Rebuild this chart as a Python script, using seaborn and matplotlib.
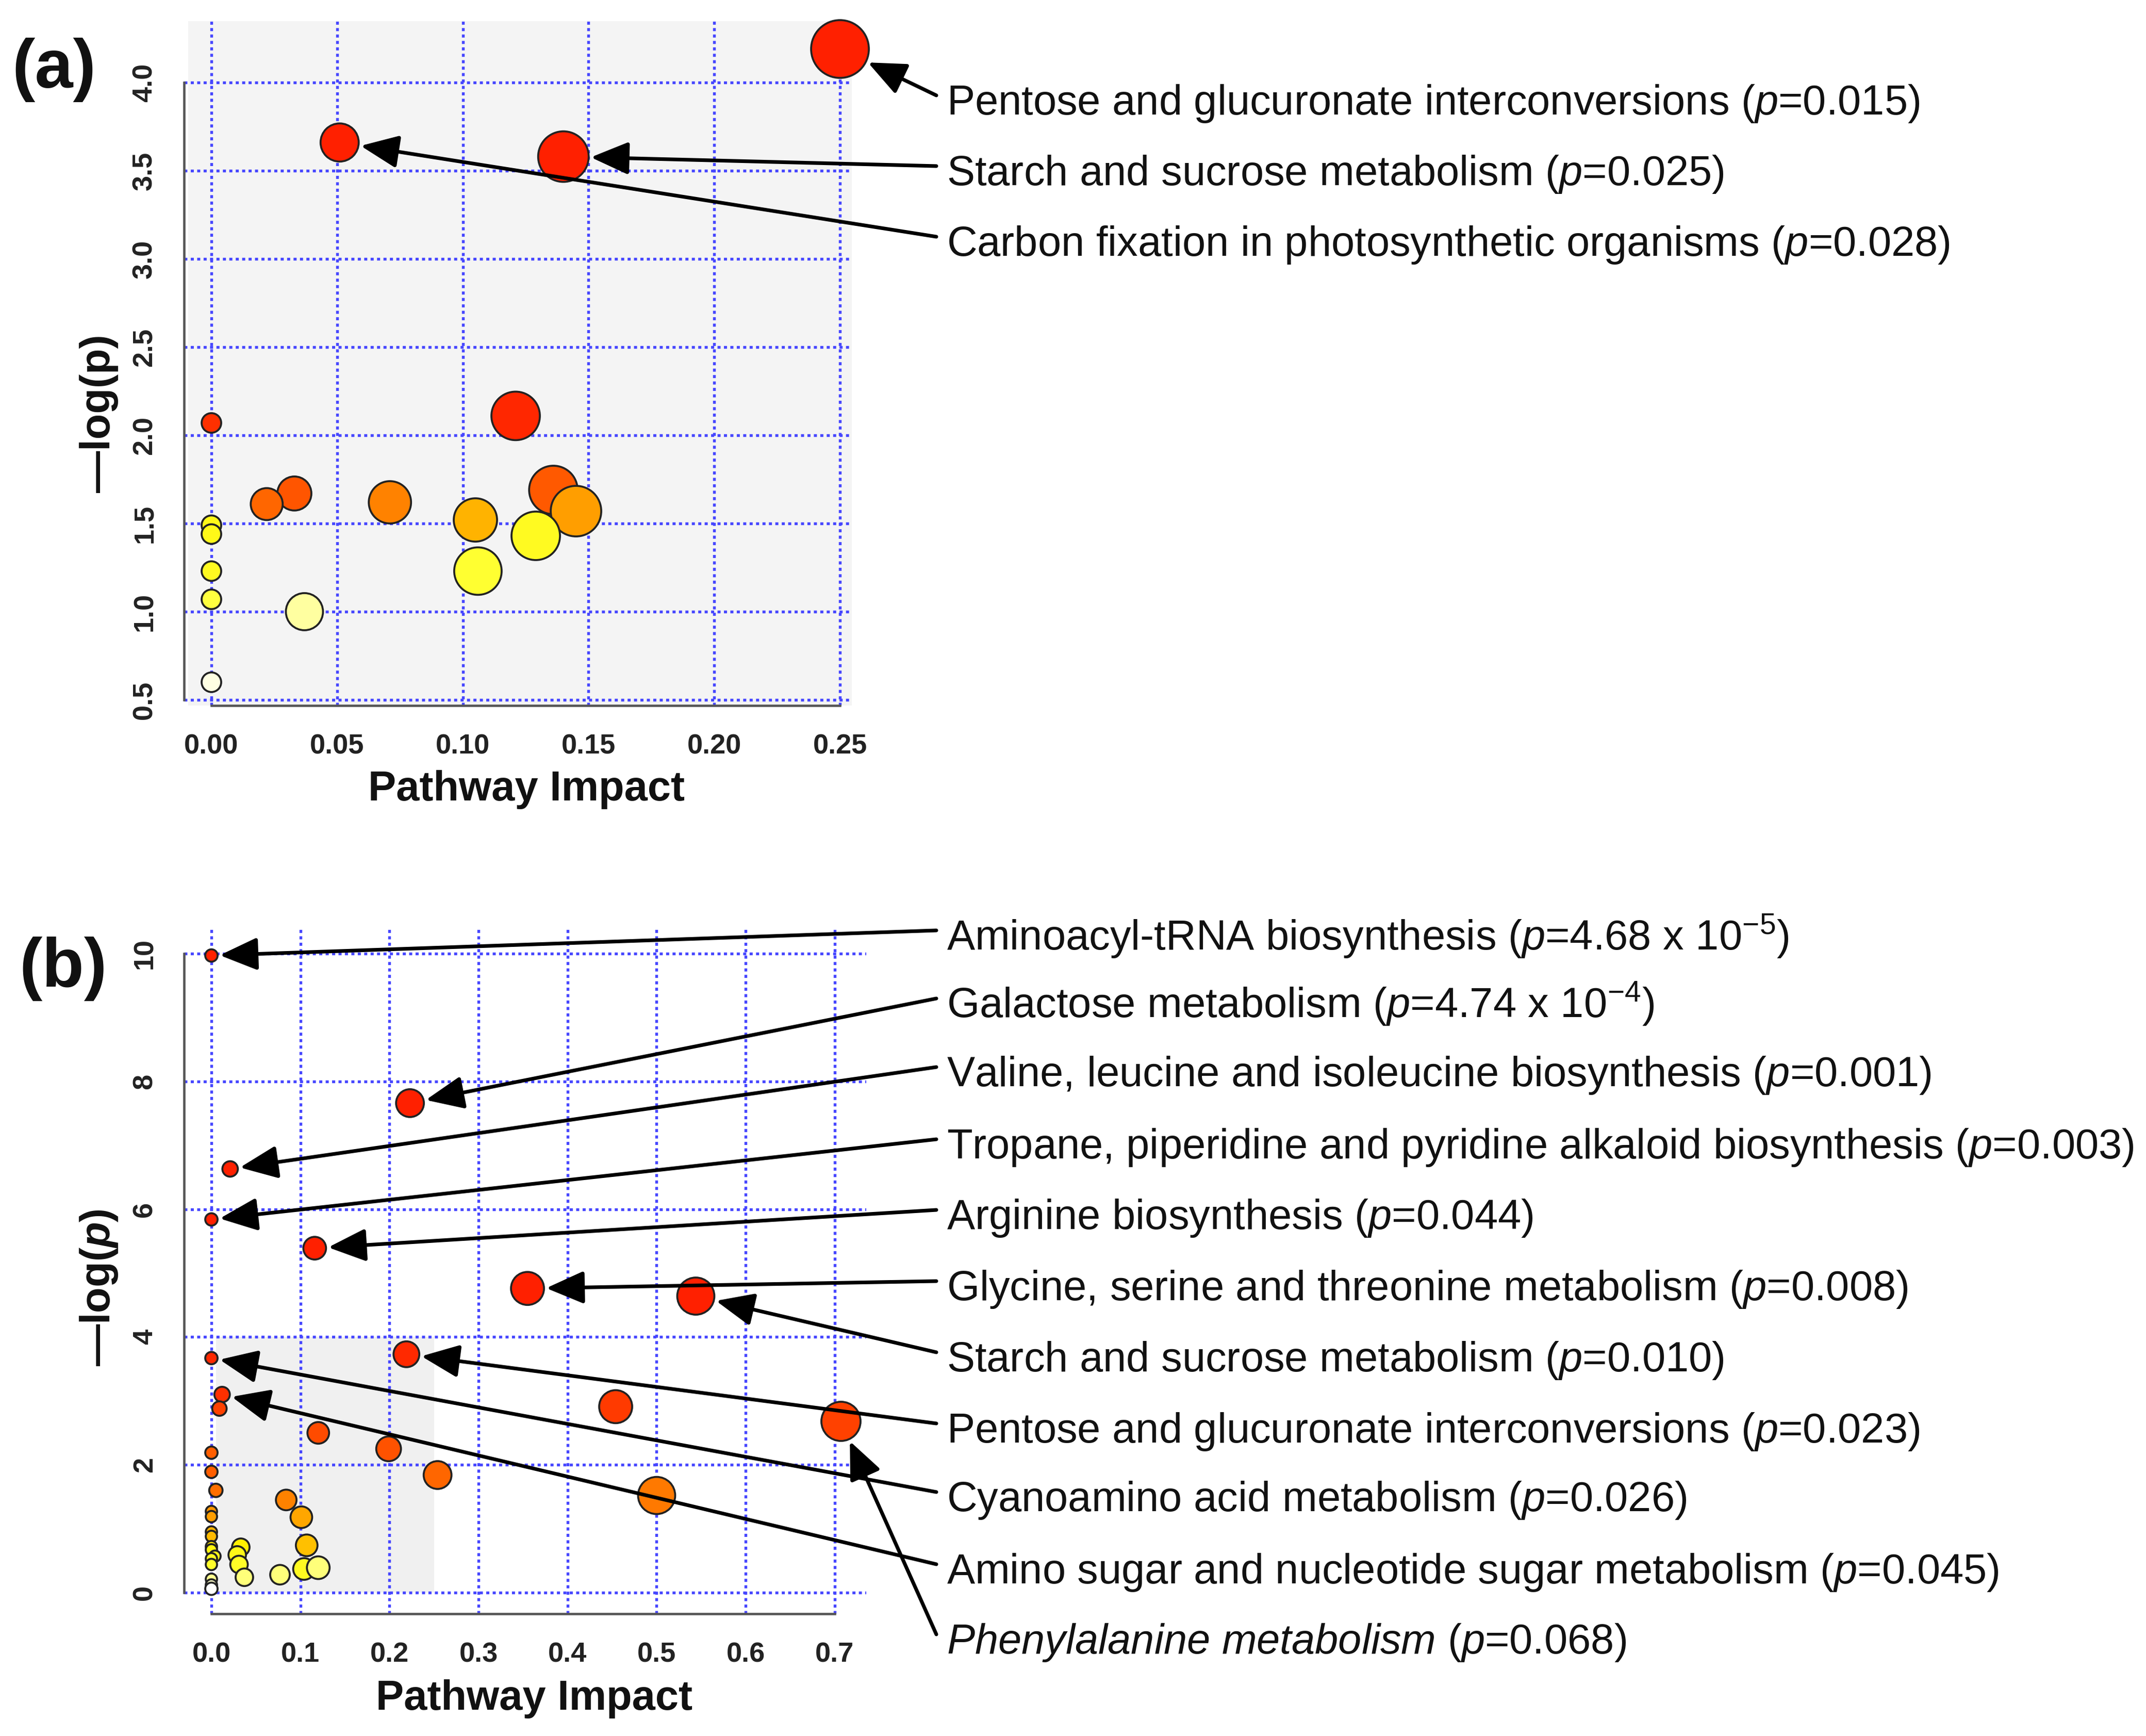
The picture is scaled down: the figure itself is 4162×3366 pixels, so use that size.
import numpy as np
import pandas as pd
import matplotlib
matplotlib.use("Agg")
import matplotlib.pyplot as plt
import seaborn as sns
from matplotlib.colors import LinearSegmentedColormap
from matplotlib.patches import Rectangle

# ---- panel (a): pathway impact vs -log(p) ----
a_impact = [0.250, 0.051, 0.140, 0.121, 0.000, 0.136, 0.145, 0.033, 0.022, 0.071,
            0.105, 0.129, 0.106, 0.037, 0.000, 0.000, 0.000, 0.000, 0.000]
a_logp = [4.19, 3.66, 3.58, 2.11, 2.07, 1.69, 1.57, 1.67, 1.61, 1.62,
          1.52, 1.43, 1.23, 1.00, 1.49, 1.44, 1.23, 1.07, 0.60]
# bubble radius (px)
a_radius = [56, 37, 49, 47, 19, 47, 49, 33, 31, 41, 42, 47, 46, 36, 19, 19, 19, 19, 19]
# colour level, 0 = white ... 1 = red
a_heat = [1.0, 1.0, 1.0, 0.98, 0.95, 0.83, 0.66, 0.84, 0.80, 0.73,
          0.60, 0.38, 0.35, 0.20, 0.40, 0.40, 0.38, 0.33, 0.06]
a_xticks = [0.0, 0.05, 0.10, 0.15, 0.20, 0.25]
a_xticklabels = ["0.00", "0.05", "0.10", "0.15", "0.20", "0.25"]
a_yticks = [0.5, 1.0, 1.5, 2.0, 2.5, 3.0, 3.5, 4.0]
a_yticklabels = ["0.5", "1.0", "1.5", "2.0", "2.5", "3.0", "3.5", "4.0"]
a_labels = [
    r"Pentose and glucuronate interconversions ($p$=0.015)",
    r"Starch and sucrose metabolism ($p$=0.025)",
    r"Carbon fixation in photosynthetic organisms ($p$=0.028)",
]
a_targets = [0, 2, 1]

# ---- panel (b) ----
b_impact = [0.000, 0.223, 0.021, 0.000, 0.116, 0.355, 0.544, 0.219, 0.000, 0.454,
            0.707, 0.012, 0.009, 0.120, 0.199, 0.254, 0.500, 0.000, 0.000, 0.005,
            0.084, 0.101, 0.107, 0.104, 0.120, 0.077, 0.033, 0.029, 0.031, 0.037,
            0.000, 0.000, 0.000, 0.000, 0.000, 0.000, 0.004, 0.000, 0.000, 0.000,
            0.000, 0.000]
b_logp = [9.97, 7.66, 6.63, 5.84, 5.39, 4.76, 4.64, 3.73, 3.67, 2.91,
          2.68, 3.10, 2.88, 2.50, 2.25, 1.84, 1.52, 2.19, 1.89, 1.60,
          1.45, 1.18, 0.74, 0.37, 0.39, 0.28, 0.71, 0.59, 0.44, 0.24,
          1.27, 1.19, 0.95, 0.88, 0.72, 0.67, 0.57, 0.53, 0.44, 0.21,
          0.12, 0.06]
b_radius = [12, 27, 15, 12, 22, 32, 36, 25, 12, 32,
            38, 15, 14, 21, 24, 27, 36, 12, 12, 13,
            20, 21, 21, 21, 22, 19, 17, 17, 17, 17,
            11, 11, 11, 11, 11, 11, 11, 11, 11, 11,
            11, 12]
b_heat = [1.0, 1.0, 1.0, 1.0, 1.0, 1.0, 1.0, 0.97, 0.97, 0.92,
          0.90, 0.95, 0.90, 0.87, 0.85, 0.80, 0.75, 0.82, 0.82, 0.78,
          0.73, 0.64, 0.56, 0.38, 0.25, 0.25, 0.45, 0.40, 0.37, 0.25,
          0.68, 0.66, 0.60, 0.58, 0.48, 0.42, 0.40, 0.38, 0.36, 0.22,
          0.12, 0.0]
b_xticks = [0.0, 0.1, 0.2, 0.3, 0.4, 0.5, 0.6, 0.7]
b_xticklabels = ["0.0", "0.1", "0.2", "0.3", "0.4", "0.5", "0.6", "0.7"]
b_yticks = [0, 2, 4, 6, 8, 10]
b_yticklabels = ["0", "2", "4", "6", "8", "10"]
b_labels = [
    r"Aminoacyl-tRNA biosynthesis ($p$=4.68 x 10$^{-5}$)",
    r"Galactose metabolism ($p$=4.74 x 10$^{-4}$)",
    r"Valine, leucine and isoleucine biosynthesis ($p$=0.001)",
    r"Tropane, piperidine and pyridine alkaloid biosynthesis ($p$=0.003)",
    r"Arginine biosynthesis ($p$=0.044)",
    r"Glycine, serine and threonine metabolism ($p$=0.008)",
    r"Starch and sucrose metabolism ($p$=0.010)",
    r"Pentose and glucuronate interconversions ($p$=0.023)",
    r"Cyanoamino acid metabolism ($p$=0.026)",
    r"Amino sugar and nucleotide sugar metabolism ($p$=0.045)",
    r"$\mathit{Phenylalanine\ metabolism}$ ($p$=0.068)",
]
b_targets = [0, 1, 2, 3, 4, 5, 6, 7, 8, 11, 10]

# ---- style ----
W, H, DPI = 4162, 3366, 300
sns.set_style("white")
plt.rcParams["font.family"] = ["Liberation Sans", "DejaVu Sans"]
plt.rcParams["mathtext.fontset"] = "custom"
plt.rcParams["mathtext.rm"] = "Liberation Sans"
plt.rcParams["mathtext.it"] = "Liberation Sans:italic"
plt.rcParams["mathtext.bf"] = "Liberation Sans:bold"
plt.rcParams["mathtext.bfit"] = "Liberation Sans:italic:bold"

heat = LinearSegmentedColormap.from_list("heat", [
    (0.0, "#ffffff"), (0.2, "#ffffa0"), (0.35, "#ffff30"), (0.45, "#fff000"),
    (0.55, "#ffc400"), (0.65, "#ffa200"), (0.75, "#ff7a00"), (0.85, "#ff5200"),
    (1.0, "#ff2000")])

GRID = "#4646ff"
AXC = "#555555"
fig = plt.figure(figsize=(W / DPI, H / DPI), dpi=DPI)


def fpos(x, y):
    # reference pixel -> figure fraction
    return x / W, 1 - y / H


def to_pt(r):
    return r * 72 / DPI


def panel(rect, xlab_y, impact, logp, radius, lvl, xlim, ylim, shade, xticks, xtl,
          yticks, ytl, ylabel, ylab_xy, labels, targets, label_y, tag, tag_xy):
    df = pd.DataFrame({"impact": impact, "logp": logp, "heat": lvl,
                       "area": (2 * to_pt(np.array(radius, float))) ** 2})
    ax = fig.add_axes(rect)
    ax.set_facecolor("white")
    ax.add_patch(Rectangle((shade[0], shade[2]), shade[1] - shade[0],
                           shade[3] - shade[2], facecolor=shade[4],
                           edgecolor="none", zorder=0.2))
    ax.set_axisbelow(True)
    ax.grid(True, color=GRID, lw=1.3, ls=(0, (1.1, 1.2)))
    smin, smax = df["area"].min(), df["area"].max()
    sns.scatterplot(data=df, x="impact", y="logp", hue="heat", palette=heat,
                    hue_norm=(0, 1), size="area", sizes=(smin, smax),
                    size_norm=(smin, smax), edgecolor="#222222", linewidth=0.9,
                    alpha=1, legend=False, ax=ax, zorder=3, clip_on=False)
    ax.set_xlim(*xlim)
    ax.set_ylim(*ylim)
    for s in ["top", "right"]:
        ax.spines[s].set_visible(False)
    for s in ["left", "bottom"]:
        ax.spines[s].set_color(AXC)
        ax.spines[s].set_linewidth(1.1)
    ax.spines["left"].set_bounds(yticks[0], yticks[-1])
    ax.spines["bottom"].set_bounds(xticks[0], xticks[-1])
    ax.set_xticks(xticks)
    ax.set_xticklabels(xtl, fontweight="bold", va="center")
    ax.set_yticks(yticks)
    ax.set_yticklabels(ytl, fontweight="bold", rotation=90, va="center", ha="center")
    ax.tick_params(axis="both", direction="out", length=6, width=1.0, color=AXC,
                   labelsize=13, labelcolor="#222222")
    ax.tick_params(axis="x", pad=13)
    ax.tick_params(axis="y", pad=12.3)
    ax.set_xlabel("Pathway Impact", fontsize=19.5, fontweight="bold", color="#111111")
    ax.set_ylabel(ylabel, fontsize=19.5, fontweight="bold", color="#111111")
    ax.xaxis.set_label_coords(0.513, xlab_y)
    ax.xaxis.label.set_va("center")
    ax.yaxis.set_label_coords(*ylab_xy)
    ax.yaxis.label.set_va("center")

    for text, yc, t in zip(labels, label_y, targets):
        tx, ty = fpos(1836, yc + 29)
        fig.text(tx, ty, text, fontsize=19.5, ha="left", va="baseline", color="#111111")
        ax.annotate("", xy=(df["impact"][t], df["logp"][t]), xycoords="data",
                    xytext=fpos(1816, yc - 8), textcoords="figure fraction",
                    annotation_clip=False, zorder=5,
                    arrowprops=dict(arrowstyle="-|>,head_length=1.5,head_width=0.65",
                                    mutation_scale=10, lw=1.7, color="black",
                                    shrinkA=0, shrinkB=to_pt(radius[t]) + 1))
    fig.text(*fpos(*tag_xy), tag, fontsize=32, fontweight="bold",
             ha="center", va="center", color="#111111")
    return ax


# axes rectangles from the reference layout (px)
a_rect = [357 / W, 1 - 1368 / H, (1652 - 357) / W, (1368 - 41) / H]
b_rect = [357 / W, 1 - 3129 / H, (1680 - 357) / W, (3129 - 1801) / H]

panel(a_rect, -0.123, a_impact, a_logp, a_radius, a_heat,
      xlim=(-0.01087, 0.2547), ylim=(0.4678, 4.348),
      shade=(-0.0092, 0.2547, 0.4678, 4.348, "#f4f4f4"),
      xticks=a_xticks, xtl=a_xticklabels, yticks=a_yticks, ytl=a_yticklabels,
      ylabel="\u2014log(p)", ylab_xy=(-0.1274, 0.427),
      labels=a_labels, targets=a_targets, label_y=[193, 330, 467],
      tag="(a)", tag_xy=(105, 135))

panel(b_rect, -0.124, b_impact, b_logp, b_radius, b_heat,
      xlim=(-0.0307, 0.7354), ylim=(-0.331, 10.387),
      shade=(0.005, 0.25, 0.0, 4.0, "#f0f0f0"),
      xticks=b_xticks, xtl=b_xticklabels, yticks=b_yticks, ytl=b_yticklabels,
      ylabel="\u2014log($\\mathbfit{p}$)", ylab_xy=(-0.1247, 0.476),
      labels=b_labels, targets=b_targets,
      label_y=[1812, 1944, 2077, 2217, 2354, 2492, 2630, 2768, 2901, 3041, 3177],
      tag="(b)", tag_xy=(123, 1878))

fig.savefig("out.png", dpi=DPI)
